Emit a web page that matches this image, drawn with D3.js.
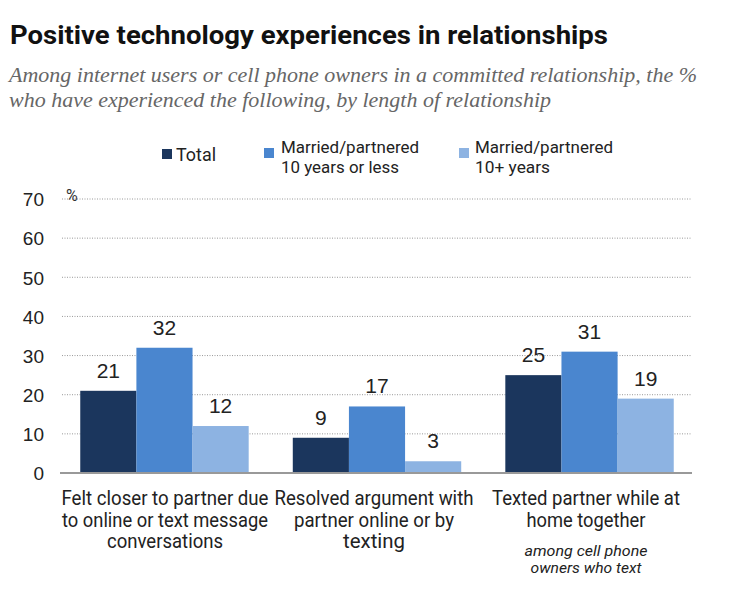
<!DOCTYPE html>
<html><head><meta charset="utf-8">
<script src="https://cdn.jsdelivr.net/npm/d3@7"></script>
<style>
body{margin:0;background:#fff;}
svg{display:block;}
</style></head>
<body>
<svg id="c" width="736" height="589"></svg>
<script>
const categories = [
  ["Felt closer to partner due", "to online or text message", "conversations"],
  ["Resolved argument with", "partner online or by", "texting"],
  ["Texted partner while at", "home together"]
];
const seriesNames = ["Total", "Married/partnered 10 years or less", "Married/partnered 10+ years"];
const totalValues = [21, 9, 25];
const shortValues = [32, 17, 31];
const longValues = [12, 3, 19];
const yTicks = [0, 10, 20, 30, 40, 50, 60, 70];
const colors = ["#1b365d", "#4a86cf", "#8db3e2"];

const svg = d3.select("#c");
const sans = "Roboto,'Liberation Sans',sans-serif";

function txt(x, yy, s, opts) {
  const t = svg.append("text").attr("x", x).attr("y", yy).text(s)
    .attr("font-family", opts.family || sans).attr("font-size", opts.size)
    .attr("fill", opts.fill || "#222");
  if (opts.weight) t.attr("font-weight", opts.weight);
  if (opts.italic) t.attr("font-style", "italic");
  if (opts.anchor) t.attr("text-anchor", opts.anchor);
  if (opts.w) t.attr("textLength", opts.w).attr("lengthAdjust", "spacingAndGlyphs");
  return t;
}

txt(10, 44, "Positive technology experiences in relationships", {size: 26, weight: "bold", fill: "#111", w: 598});

const sub = ["Among internet users or cell phone owners in a committed relationship, the %",
             "who have experienced the following, by length of relationship"];
const subW = [688, 542];
sub.forEach((s, i) => {
  txt(9, 82 + i * 25, s, {family: "'Liberation Serif','DejaVu Serif',serif", italic: true, size: 21, fill: "#666", w: subW[i]});
});

const x0 = d3.scaleBand().domain(d3.range(categories.length)).range([59, 695]).paddingInner(0.2075).paddingOuter(0.1);
const x1 = d3.scaleBand().domain(d3.range(3)).range([0, x0.bandwidth()]);
const y = d3.scaleLinear().domain([0, 70]).range([473, 199]);

// grid
svg.append("g").selectAll("line").data(yTicks.filter(d => d > 0)).join("line")
  .attr("x1", 62).attr("x2", 692).attr("y1", d => y(d)).attr("y2", d => y(d))
  .attr("stroke", "#999").attr("stroke-width", 1).attr("stroke-dasharray", "1,1.5");

// y axis labels
const yAxis = d3.axisLeft(y).tickValues(yTicks).tickSize(0).tickPadding(0);
const ga = svg.append("g").attr("transform", "translate(44,0)").call(yAxis);
ga.select(".domain").remove();
ga.selectAll("text").attr("font-family", "'Liberation Sans',Arial,sans-serif").attr("font-size", 19).attr("fill", "#222").attr("dy", "0.36em");

txt(66, 201, "%", {size: 16, fill: "#333"});

const series = [totalValues, shortValues, longValues];
const g = svg.append("g");
const catW = [[207, 206, 116], [199, 160, 62], [188, 119]];
const catCx = [165, 374, 586];
categories.forEach((c, ci) => {
  series.forEach((vals, si) => {
    const xx = x0(ci) + x1(si);
    g.append("rect").attr("x", xx).attr("y", y(vals[ci])).attr("width", x1.bandwidth())
      .attr("height", y(0) - y(vals[ci])).attr("fill", colors[si]);
    g.append("text").attr("x", xx + x1.bandwidth() / 2).attr("y", y(vals[ci]) - 13)
      .attr("text-anchor", "middle").attr("font-family", "'Liberation Sans',Arial,sans-serif")
      .attr("font-size", 21).attr("fill", "#222").text(vals[ci]);
  });
  c.forEach((line, li) => {
    txt(catCx[ci], 505 + li * 21.5, line, {size: 19.5, anchor: "middle", w: catW[ci][li]});
  });
});

// note under category 3
const notes = ["among cell phone", "owners who text"];
const noteW = [123, 111];
notes.forEach((n, i) => {
  txt(catCx[2], 556 + i * 17, n, {size: 15.5, italic: true, anchor: "middle", w: noteW[i]});
});

// baseline
svg.append("line").attr("x1", 60).attr("x2", 692).attr("y1", y(0)).attr("y2", y(0))
  .attr("stroke", "#999").attr("stroke-width", 2);

// legend
const legend = [
  {x: 162, y: 149, lines: ["Total"], ty: [161], w: [40], tx: 176},
  {x: 264, y: 148, lines: ["Married/partnered", "10 years or less"], ty: [153, 173], w: [138, 118], tx: 281},
  {x: 459, y: 148, lines: ["Married/partnered", "10+ years"], ty: [153, 173], w: [138, 75], tx: 475}
];
legend.forEach((l, i) => {
  svg.append("rect").attr("x", l.x).attr("y", l.y).attr("width", 10).attr("height", 10).attr("fill", colors[i]);
  l.lines.forEach((t, j) => {
    txt(l.tx, l.ty[j], t, {size: i === 0 ? 19 : 17, w: l.w[j]});
  });
});
</script>
</body></html>
